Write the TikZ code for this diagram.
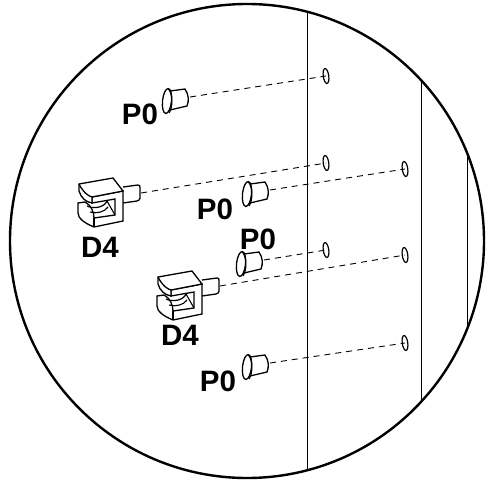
\documentclass[tikz,border=0pt]{standalone}
\usepackage{fontspec}
\setmainfont{Liberation Sans}
\usetikzlibrary{shapes.geometric}

\tikzset{
  partlabel/.style={font=\fontsize{29.5}{29.5}\selectfont\bfseries,inner sep=0pt},
  hole/.style={draw,ellipse,line width=1.2pt,inner sep=0pt,minimum width=5.5pt,minimum height=15pt,rotate=8},
  guide/.style={draw,line width=.9pt,dash pattern=on 6pt off 5pt},
  pics/peg/.style={code={
    \draw[line width=1.3pt,fill=white] (3,-10) -- (18,-12)
      .. controls (22,-6) and (22,0) .. (20,5) -- (3,9);
    \draw[line width=1.3pt,fill=white,rotate=-6] (0,0) ellipse (4.5 and 12.5);
    \draw[line width=1.1pt] (1.5,-12) .. controls (6,-6) and (6,6) .. (2,12);
    \coordinate (-tip) at (23,-4);
  }},
  pics/bracket/.style={code={
    \draw[line width=1.3pt] (63,27) -- (78,25) .. controls (80,25) and (80,26) .. (80,28)
      -- (80,38) .. controls (80,40) and (79,40) .. (77,41) -- (63,43);
    % lower jaw and right block
    \draw[line width=1.3pt,fill=white] (32,37) -- (63,31) -- (63,61) -- (34,67)
      .. controls (24,63) and (18,58) .. (18,53) -- (18,43) -- (25,42)
      .. controls (31,45) and (34,52) .. (34,58) -- (55,55) -- (55,39) -- (32,43) -- cycle;
    \draw[line width=1.3pt] (34,58) -- (34,67);
    % roller
    \draw[line width=1.2pt] (27,46) .. controls (33,49) and (44,48) .. (47,41);
    \draw[line width=1.1pt] (30,52) .. controls (36,54) and (45,52) .. (48,47);
    \draw[line width=1.1pt] (47,41) -- (55,55);
    % top plate
    \draw[line width=1.3pt,fill=white] (19,24) -- (53,18) -- (63,31) -- (32,37)
      -- (32,43) .. controls (26,42) and (21,38) .. (19,31) -- cycle;
    \draw[line width=1.3pt] (19,24) .. controls (23,32) and (28,36) .. (32,37);
    \coordinate (-tip) at (81,33);
  }},
}

\begin{document}
\begin{tikzpicture}[x=1pt,y=-1pt]
  \useasboundingbox (0,0) rectangle (492,484);
  % back panel
  \begin{scope}
    \clip (247,241) circle (237);
    \draw[line width=.9pt] (307,0) -- (307,484);
    \draw[line width=.9pt] (421,0) -- (421,484);
    \draw[line width=.9pt] (467,0) -- (467,484);
  \end{scope}
  \draw[line width=2.4pt] (247,241) circle (237);
  % holes
  \node[hole] (h1) at (326,76) {};
  \node[hole] (h2) at (326,163) {};
  \node[hole] (h3) at (405,169) {};
  \node[hole] (h4) at (326,250) {};
  \node[hole] (h5) at (405,255) {};
  \node[hole] (h6) at (405,343) {};
  % fittings
  \pic (p1) at (167,101) {peg};
  \pic (p2) at (247,194) {peg};
  \pic (p3) at (241,264) {peg};
  \pic (p4) at (247,367) {peg};
  \pic (d1) at (60,160) {bracket};
  \pic (d2) at (139,253) {bracket};
  % dashed guides
  \path[guide] (p1-tip) -- (h1.center);
  \path[guide] (p2-tip) -- (h3.center);
  \path[guide] (p3-tip) -- (h4.center);
  \path[guide] (p4-tip) -- (h6.center);
  \path[guide] (d1-tip) -- (h2.center);
  \path[guide] (d2-tip) -- (h5.center);
  % labels
  \node[partlabel] (l1) at (140,114) {P0};
  \node[partlabel] (l2) at (100,247) {D4};
  \node[partlabel] (l3) at (215,209) {P0};
  \node[partlabel] (l4) at (258,239) {P0};
  \node[partlabel] (l5) at (180,335) {D4};
  \node[partlabel] (l6) at (218,381) {P0};
\end{tikzpicture}
\end{document}
